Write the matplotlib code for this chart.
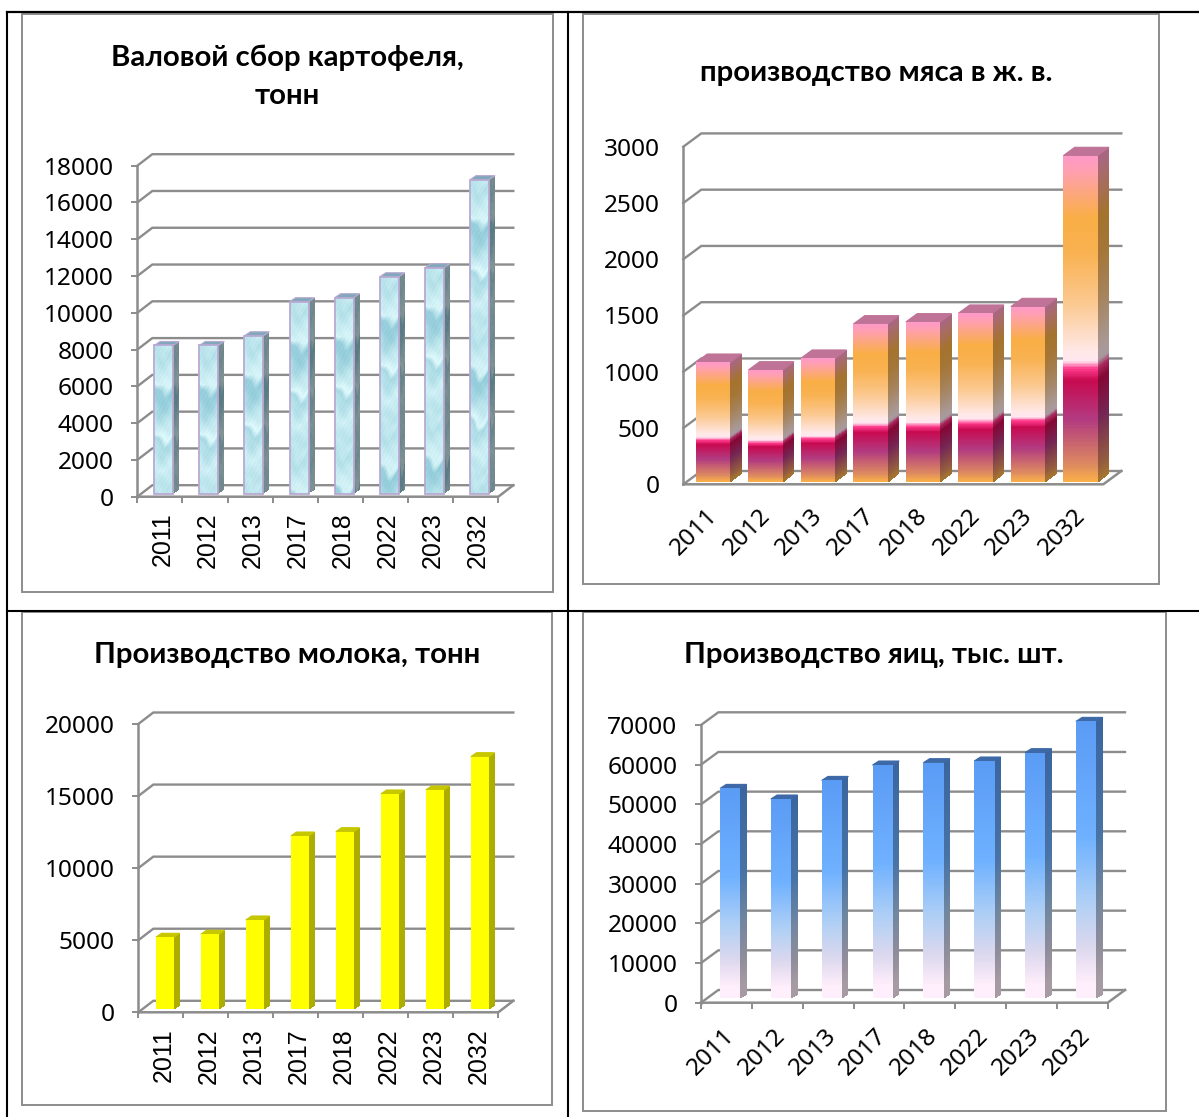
import numpy as np
import matplotlib
matplotlib.use('Agg')
import matplotlib.pyplot as plt
from matplotlib.patches import Rectangle, Polygon
from matplotlib.colors import to_rgb

W = 1199
H = 1117
GRID = '#8c8c8c'

years = ['2011', '2012', '2013', '2017', '2018', '2022', '2023', '2032']
potato = [8060, 8060, 8590, 10440, 10660, 11800, 12290, 17080]
meat = [1060, 992, 1096, 1401, 1419, 1496, 1555, 2897]
milk = [4974, 5182, 6174, 12001, 12300, 14915, 15192, 17503]
eggs = [52760, 50080, 54770, 58650, 59240, 59660, 61760, 69650]

potato_ticks = [0, 2000, 4000, 6000, 8000, 10000, 12000, 14000, 16000, 18000]
meat_ticks = [0, 500, 1000, 1500, 2000, 2500, 3000]
milk_ticks = [0, 5000, 10000, 15000, 20000]
egg_ticks = [0, 10000, 20000, 30000, 40000, 50000, 60000, 70000]

meat_stops = [(0, '#ff99c8'), (0.04, '#ff9fb4'), (0.19, '#f9ae45'), (0.3, '#f9b252'),
              (0.45, '#fbc88f'), (0.6, '#ffe8e6'), (0.63, '#ffe6f0'), (0.655, '#ff3a8c'),
              (0.69, '#c80a50'), (0.81, '#b23a80'), (0.95, '#dd8a60'), (1, '#f9ae49')]
egg_stops = [(0, '#5a9bf5'), (0.42, '#6fb1ff'), (0.65, '#aecff5'), (0.82, '#dcd8ee'),
             (0.95, '#ffeefb'), (1, '#ffeefb')]
milk_stops = [(0, '#ffff00'), (1, '#ffff00')]


def gradient(stops, rows=200):
    # rows go from the top of the bar down
    t = np.linspace(0, 1, rows)
    pos = [s[0] for s in stops]
    cols = np.array([to_rgb(s[1]) for s in stops])
    out = np.zeros((rows, 1, 3))
    for k in range(3):
        out[:, 0, k] = np.interp(t, pos, cols[:, k])
    return out


def water(height_px, width_px=19):
    # the ripple picture of the potato bars, a tile of about 150 px
    rows = int(height_px)
    cols = int(width_px)
    y = np.arange(rows)[:, None] / 150.0
    u = (np.arange(cols)[None, :] + 0.5) / cols
    t = (y + 0.07 * (2 * u - 1) ** 2 + 0.025 * np.sin(u * 6 + y * 20)) % 1
    pos = [0, 0.08, 0.28, 0.33, 0.42, 0.58, 0.62, 0.66, 0.72, 0.84, 0.95, 1]
    val = [0.75, 0.55, 0.92, 0.2, 0.3, 0.8, 1.0, 0.45, 0.55, 0.85, 0.6, 0.75]
    light = np.interp(t, pos, val)
    light = light + 0.07 * np.sin(y * 90 + u * 11) * np.sin(u * 19 + y * 40)
    light = np.clip(light, 0, 1)[:, :, None]
    dark = np.array(to_rgb('#82c2d2'))
    pale = np.array(to_rgb('#dcf8fb'))
    return dark + (pale - dark) * light


def face(ax, bl, br, tr, tl, rgb, z):
    # fills a four sided face with an rgb array, first row at the top
    m, n = rgb.shape[:2]
    s = np.linspace(0, 1, n + 1)[None, :, None]
    t = np.linspace(0, 1, m + 1)[:, None, None]
    bl, br, tr, tl = [np.array(p, dtype=float) for p in (bl, br, tr, tl)]
    top = tl + (tr - tl) * s
    bot = bl + (br - bl) * s
    xy = top + (bot - top) * t
    ax.pcolormesh(xy[:, :, 0], xy[:, :, 1], rgb, shading='flat', zorder=z, clip_on=False)


def panel(x0, x1, y0, ytop, values, ticks, depth, bar_depth, bar_w, off, rot, has_ticks, label_shift, label_pad,
          stops=None, side_k=0.65, top_k=0.75, edge=None):
    ymax = ticks[-1]
    ax = fig.add_axes([x0 / W, 1 - y0 / H, (x1 - x0) / W, (y0 - ytop) / H])
    ax.patch.set_visible(False)
    for s in ax.spines.values():
        s.set_visible(False)
    px = (x1 - x0) / 8.0
    py = (y0 - ytop) / float(ymax)
    ddx = depth[0] / px
    ddy = depth[1] / py

    for v in ticks:
        ax.plot([0, ddx, 8 + ddx], [v, v + ddy, v + ddy], color=GRID, lw=1.7, clip_on=False, zorder=1)
    ax.plot([0, 0], [0, ymax], color=GRID, lw=1.8, clip_on=False, zorder=2)
    ax.plot([0, 8, 8 + ddx], [0, 0, ddy], color=GRID, lw=1.8, clip_on=False, zorder=2)

    bdx = bar_depth[0] / px
    bdy = bar_depth[1] / py
    w = bar_w / px
    base = off[1] / py
    for i, v in enumerate(values):
        l = i + 0.5 + off[0] / px - w / 2
        r = l + w
        b = base
        t = base + v
        z = 3 + i * 0.1
        if stops is None:
            rgb = water(v * py)
            top_col = (0.5, 0.66, 0.73)
        else:
            rgb = gradient(stops)
            top_col = tuple(rgb[0, 0] * top_k)
        side = rgb * side_k
        face(ax, (r, b), (r + bdx, b + bdy), (r + bdx, t + bdy), (r, t), side, z)
        ax.add_patch(Polygon([(l, t), (r, t), (r + bdx, t + bdy), (l + bdx, t + bdy)],
                             fc=top_col, ec=edge if edge else top_col, lw=0.8, zorder=z, clip_on=False))
        face(ax, (l, b), (r, b), (r, t), (l, t), rgb, z + 0.01)
        if edge:
            ax.add_patch(Rectangle((l, b), w, v, fc='none', ec=edge, lw=1.3, zorder=z + 0.02, clip_on=False))

    ax.set_xlim(0, 8)
    ax.set_ylim(0, ymax)
    ax.set_yticks(ticks)
    ax.set_yticklabels([str(v) for v in ticks], fontsize=17.6, family='Noto Sans')
    ax.set_xticks(range(9))
    ax.set_xticklabels([])
    centers = [i + 0.5 + label_shift / px for i in range(8)]
    if rot == 90:
        ax.set_xticks(centers, years, minor=True, rotation=90, fontsize=18, family='Liberation Sans')
    else:
        ax.set_xticks(centers, years, minor=True, rotation=45, ha='right', rotation_mode='anchor',
                      fontsize=17.5, family='Noto Sans')
    ax.tick_params(axis='x', which='minor', length=0, pad=label_pad)
    tl = 4.3 if has_ticks else 0
    ax.tick_params(axis='x', which='major', length=tl, width=1.4, color=GRID)
    ax.tick_params(axis='y', which='major', length=tl, width=1.4, color=GRID, pad=17 - tl)
    return ax


fig = plt.figure(figsize=(W / 100, H / 100), dpi=100, facecolor='white')

# table lines and chart frames
bg = fig.add_axes([0, 0, 1, 1])
bg.set_xlim(0, W)
bg.set_ylim(H, 0)
bg.axis('off')
for (a, b, c, d) in [(22, 14, 553, 591.5), (583, 14, 1159, 584), (22, 612, 552, 1105), (582.5, 612, 1166, 1111)]:
    bg.add_patch(Rectangle((a, b), c - a, d - b, fc='white', ec=GRID, lw=1.4))
bg.plot([7, W], [12, 12], color='black', lw=1.6)
bg.plot([7, W], [610.7, 610.7], color='black', lw=1.5)
bg.plot([7, 7], [12, H], color='black', lw=1.5)
bg.plot([567.5, 567.5], [12, H], color='black', lw=1.5)

panel(137.3, 498.3, 496.7, 165.7, potato, potato_ticks, (15, 11.5), (6, 4), 19, (3.8, 3), 90, True, 2.5, 11.5,
      stops=None, side_k=0.6, edge='#b9a9d3')
panel(683.3, 1103.3, 484.3, 146.7, meat, meat_ticks, (18, 13.3), (11.3, 8.3), 34.3, (3.5, 2.7), 45, False, -4, 14,
      stops=meat_stops, side_k=0.66, top_k=0.75)
panel(138.3, 498.3, 1012.3, 724, milk, milk_ticks, (15, 11.5), (5.7, 4), 18, (4, 3.3), 90, True, 2.5, 11.5,
      stops=milk_stops, side_k=0.68, top_k=0.78)
panel(701, 1107.7, 1002.7, 725, eggs, egg_ticks, (17.3, 12.7), (6.3, 4), 20.4, (3.8, 5), 45, True, -4, 15,
      stops=egg_stops, side_k=0.65, top_k=0.68)

title_font = dict(family='Lato', fontweight='bold', fontsize=21.2, ha='center', va='center', color='black')
fig.text(287 / W, 1 - 57.5 / H, 'Валовой сбор картофеля,', **title_font)
fig.text(287 / W, 1 - 96.5 / H, 'тонн', **title_font)
fig.text(876 / W, 1 - 72.5 / H, 'производство мяса в ж. в.', **title_font)
fig.text(287 / W, 1 - 655 / H, 'Производство молока, тонн', **title_font)
fig.text(874 / W, 1 - 655 / H, 'Производство яиц, тыс. шт.', **title_font)

fig.savefig('out.png', dpi=100, facecolor='white')
